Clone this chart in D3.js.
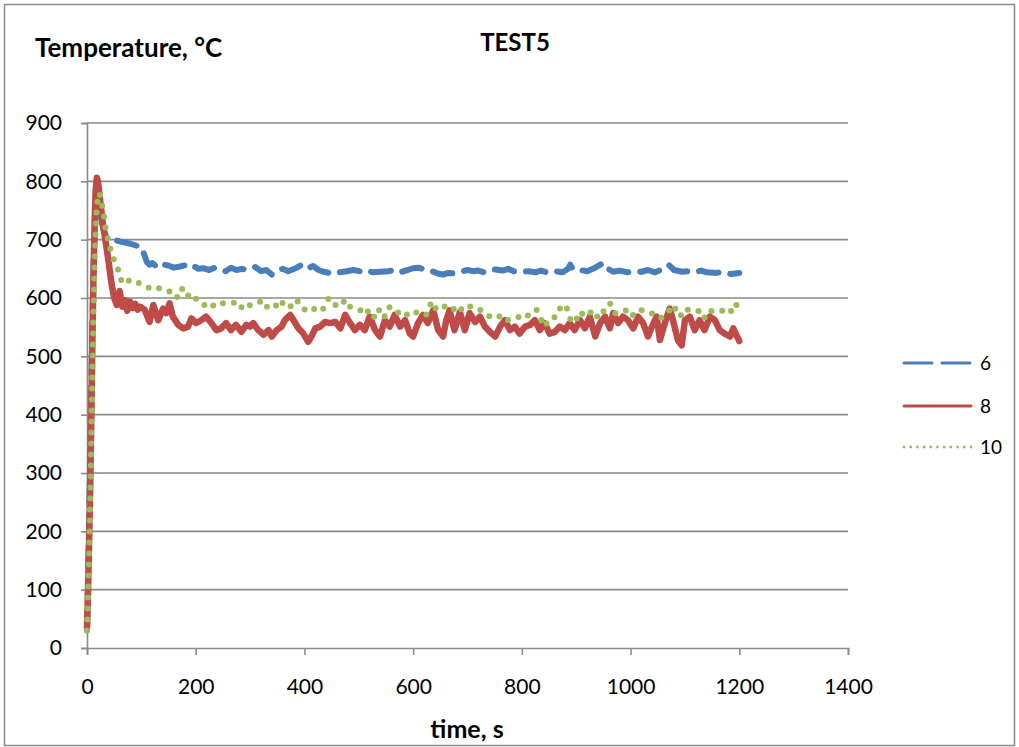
<!DOCTYPE html>
<html>
<head>
<meta charset="utf-8">
<script src="https://cdn.jsdelivr.net/npm/d3@7"></script>
<style>
  body { margin: 0; background: #fff; }
  svg { display: block; }
  text { font-family: Lato, "Open Sans", "Liberation Sans", sans-serif; fill: #000; }
</style>
</head>
<body>
<svg id="chart" width="1019" height="747"></svg>
<script>
// Axis ticks
const xTicks = [0, 200, 400, 600, 800, 1000, 1200, 1400];
const yTicks = [0, 100, 200, 300, 400, 500, 600, 700, 800, 900];

// Series names (thermocouple positions)
const seriesNames = ["6", "8", "10"];

// Series "6": time (s) and temperature (°C)
const time6 = [0,2,4,6,8,10,12,14,16,18,
  20,22,25,30,35,40,45,50,60,70,
  80,90,100,110,115,120,125,134,143,152,
  160,171,180,190,196,205,214,225,235,245,
  255,265,275,285,295,300,310,320,330,340,
  350,360,370,386,395,405,416,426,435,445,
  455,465,478,490,502,515,525,540,555,565,
  575,590,600,610,620,630,645,655,665,675,
  686,700,710,720,730,740,752,765,775,785,
  800,812,825,835,850,860,875,885,889,895,
  907,920,935,950,955,968,980,995,1005,1020,
  1032,1045,1060,1070,1080,1095,1105,1118,1130,1140,
  1158,1170,1185,1200];
const temp6 = [30,120,230,340,460,570,650,710,745,762,
  768,760,740,718,706,704,702,700,697,695,
  693,690,688,662,657,660,656,662,657,655,
  652,654,656,652,655,650,651,648,652,650,
  646,652,648,650,648,651,653,646,648,640,
  647,650,646,652,657,650,655,648,645,643,
  646,644,646,648,646,648,644,645,646,648,
  644,648,651,652,649,648,642,640,643,642,
  645,648,646,647,644,648,649,647,650,646,
  645,646,644,647,643,646,644,650,657,648,
  648,646,652,660,652,645,647,644,646,645,
  648,644,650,657,648,645,646,644,647,644,
  643,645,641,643];

// Series "8"
const time8 = [0,2,4,6,8,10,12,14,16,18,
  20,22,25,30,35,40,45,50,55,60,
  65,70,74,79,84,89,93,98,106,115,
  122,131,140,146,152,158,168,177,186,192,
  201,210,219,229,238,247,256,265,274,284,
  293,300,306,315,325,334,340,349,358,364,
  374,380,389,398,407,413,420,429,438,447,
  457,466,475,484,493,502,511,520,530,539,
  548,557,566,576,585,594,600,609,618,627,
  637,646,655,661,667,676,686,695,704,714,
  723,732,741,751,760,769,778,787,796,806,
  815,824,833,842,851,861,870,879,888,897,
  907,916,925,935,944,953,962,968,977,986,
  995,1005,1014,1023,1032,1038,1048,1054,1063,1072,
  1078,1087,1094,1100,1109,1118,1127,1136,1146,1155,
  1164,1173,1183,1189,1195,1200];
const temp8 = [35,100,190,280,400,530,640,730,785,806,
  800,785,760,722,692,660,625,600,588,612,
  585,596,578,594,583,590,580,585,580,559,
  588,562,582,574,591,568,554,548,551,565,
  557,562,568,557,545,548,557,545,554,542,
  554,551,557,545,537,545,534,545,551,562,
  571,562,548,539,525,534,548,551,559,557,
  559,548,571,557,545,554,545,568,545,534,
  562,551,571,551,562,539,534,557,571,557,
  579,545,534,562,579,545,576,545,574,559,
  568,551,542,534,551,562,545,551,539,551,
  554,562,545,557,539,542,551,545,557,545,
  562,548,568,534,557,568,548,574,557,568,
  562,548,568,557,534,548,568,528,557,582,
  562,528,519,562,568,545,562,545,568,562,
  545,539,534,548,536,526];

// Series "10"
const time10 = [0,2,4,6,8,10,12,14,16,18,
  20,22,25,28,31,34,40,46,52,59,
  64,69,74,83,90,97,106,115,125,134,
  143,152,165,174,183,192,202,211,220,229,
  241,250,259,268,277,287,296,300,309,318,
  328,337,346,355,361,374,386,392,401,410,
  420,432,445,457,466,475,484,496,502,511,
  520,530,539,548,557,566,576,585,594,603,
  612,624,634,643,652,661,670,683,692,701,
  711,717,729,741,754,763,775,784,796,806,
  818,827,836,842,851,864,873,882,888,897,
  907,916,932,941,950,962,971,980,992,1002,
  1011,1023,1032,1045,1054,1066,1078,1091,1100,1112,
  1121,1130,1137,1146,1155,1164,1173,1183,1192,1200];
const temp10 = [30,90,170,260,370,480,580,660,720,755,
  772,780,775,758,742,720,694,674,660,645,
  627,632,631,626,628,625,620,617,614,617,
  614,611,600,617,602,608,597,594,583,588,
  585,591,591,591,594,580,585,588,591,594,
  582,591,588,582,594,585,597,585,580,585,
  580,577,600,588,585,597,585,582,580,571,
  580,565,582,568,585,577,574,568,577,577,
  571,571,594,580,580,588,585,574,585,588,
  582,582,577,568,565,571,562,565,568,565,
  577,580,562,551,565,568,588,585,565,557,
  577,568,579,565,577,591,574,574,579,568,
  579,579,577,571,565,571,588,568,582,577,
  577,579,565,577,579,577,579,574,591,582];

const W = 1019, H = 747;
const plot = { left: 87, right: 848, top: 123, bottom: 648 };
const gridColor = "#8a8a8a";

const svg = d3.select("#chart");

// Outer chart frame
svg.append("rect")
  .attr("x", 4.5).attr("y", 4.5)
  .attr("width", W - 9).attr("height", H - 6)
  .attr("fill", "#fff")
  .attr("stroke", gridColor).attr("stroke-width", 1.5);

const x = d3.scaleLinear().domain([0, 1400]).range([plot.left, plot.right]);
const y = d3.scaleLinear().domain([0, 900]).range([plot.bottom, plot.top]);

// Horizontal gridlines
svg.append("g")
  .selectAll("line")
  .data(yTicks.filter(d => d > 0))
  .join("line")
  .attr("x1", plot.left).attr("x2", plot.right)
  .attr("y1", d => y(d)).attr("y2", d => y(d))
  .attr("stroke", gridColor).attr("stroke-width", 1.6);

// Y axis
const yAxis = svg.append("g")
  .attr("transform", `translate(${plot.left},0)`)
  .call(d3.axisLeft(y).tickValues(yTicks).tickSize(6).tickPadding(19).tickFormat(d3.format("d")));
yAxis.select(".domain").attr("stroke", gridColor).attr("stroke-width", 1.6);
yAxis.selectAll(".tick line").attr("stroke", gridColor).attr("stroke-width", 1.6);
yAxis.selectAll(".tick text").style("font-size", "21px").attr("fill", "#000");

// X axis
const xAxis = svg.append("g")
  .attr("transform", `translate(0,${plot.bottom})`)
  .call(d3.axisBottom(x).tickValues(xTicks).tickSize(7).tickPadding(24).tickFormat(d3.format("d")));
xAxis.select(".domain").attr("stroke", gridColor).attr("stroke-width", 1.6);
xAxis.selectAll(".tick line").attr("stroke", gridColor).attr("stroke-width", 1.6);
xAxis.selectAll(".tick text").style("font-size", "21px").attr("fill", "#000");

// Series lines
const seriesData = [
  { name: seriesNames[0], t: time6, v: temp6, color: "#4a7ebb", width: 6, dash: "20,12" },
  { name: seriesNames[1], t: time8, v: temp8, color: "#be4b48", width: 6.5, dash: null },
  { name: seriesNames[2], t: time10, v: temp10, color: "#9bbb59", width: 6, dash: "0,11" }
];

const line = d3.line().x(d => x(d[0])).y(d => y(d[1]));

seriesData.forEach(s => {
  const pts = s.t.map((t, i) => [t, s.v[i]]);
  svg.append("path")
    .datum(pts)
    .attr("d", line)
    .attr("fill", "none")
    .attr("stroke", s.color)
    .attr("stroke-width", s.width)
    .attr("stroke-linecap", "round")
    .attr("stroke-linejoin", "round")
    .attr("stroke-dasharray", s.dash);
});

// Legend
const legendY = [363, 406, 447];
const legendStyles = [
  { width: 3, dash: "28,10" },
  { width: 3, dash: null },
  { width: 2.8, dash: "0,6.7" }
];
seriesData.forEach((s, i) => {
  const g = svg.append("g").attr("transform", `translate(0,${legendY[i]})`);
  g.append("line")
    .attr("x1", 904).attr("x2", 971)
    .attr("y1", 0).attr("y2", 0)
    .attr("stroke", s.color)
    .attr("stroke-width", legendStyles[i].width)
    .attr("stroke-linecap", "round")
    .attr("stroke-dasharray", legendStyles[i].dash);
  g.append("text")
    .attr("x", 980).attr("y", 0)
    .attr("dy", "0.35em")
    .style("font-size", "19px")
    .text(s.name);
});

// Titles
svg.append("text")
  .attr("x", 35).attr("y", 48).attr("dy", "0.35em")
  .style("font-size", "26px").style("font-weight", "bold")
  .text("Temperature, °C");

svg.append("text")
  .attr("x", 515).attr("y", 43).attr("dy", "0.35em")
  .attr("text-anchor", "middle")
  .style("font-size", "24px").style("font-weight", "bold")
  .text("TEST5");

svg.append("text")
  .attr("x", 467).attr("y", 729).attr("dy", "0.35em")
  .attr("text-anchor", "middle")
  .style("font-size", "25px").style("font-weight", "bold")
  .text("time, s");
</script>
</body>
</html>
